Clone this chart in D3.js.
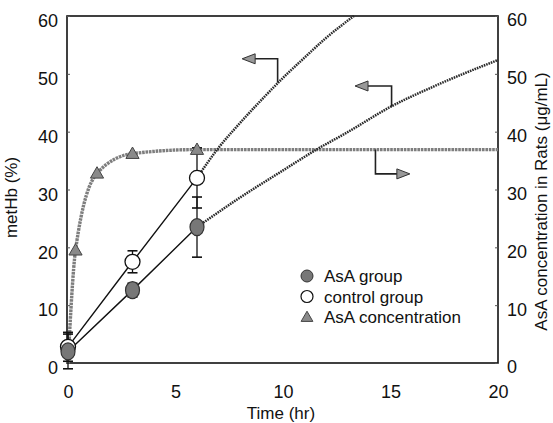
<!DOCTYPE html>
<html>
<head>
<meta charset="utf-8">
<style>
    body { margin: 0; background: #fff; }
    svg { font-family: Arial, 'Liberation Sans', sans-serif; }
    .tick text { font-size: 18px; fill: #111; }
    .axis-title { font-size: 17px; fill: #111; }
    .legend text { font-size: 17px; fill: #111; }
</style>
</head>
<body>
<svg width="553" height="423"></svg>
<script src="https://d3js.org/d3.v7.min.js"></script>
<script>
    // measured points (time in hr, metHb %)
    let times = [0, 3, 6];
    let asaGroup = [2.0, 12.6, 23.5];
    let asaErr = [3.0, 1.2, 5.2];
    let controlGroup = [2.8, 17.5, 32.0];
    let controlErr = [2.5, 1.9, 5.2];

    // extrapolated (dotted) lines
    let controlExtT = [6, 7, 8, 9, 10, 11, 12, 13.3];
    let controlExtV = [32, 37.2, 41.5, 45.5, 49.3, 52.8, 56.2, 60];
    let asaExtT = [6, 8, 10, 11.6, 13, 15, 17, 20];
    let asaExtV = [23.5, 28.6, 33.3, 37, 39.9, 44.3, 47.8, 52.4];

    // AsA concentration (ug/mL, right axis)
    let concT = [0, 0.35, 1.35, 3, 6, 20];
    let concV = [0, 19.5, 32.8, 36.2, 36.9, 36.9];
    let concMarkT = [0.35, 1.35, 3, 6];
    let concMarkV = [19.5, 32.8, 36.2, 36.9];

    // callout arrows: [t on curve, value on curve, bend value, end t]
    let arrowT = [9.75, 15.05, 14.3];
    let arrowV = [48.5, 44.3, 36.9];
    let arrowBendV = [52.6, 47.9, 32.7];
    let arrowEndT = [8.1, 13.35, 15.9];

    let xTicks = [0, 5, 10, 15, 20];
    let yTicks = [0, 10, 20, 30, 40, 50, 60];

    let margin = { top: 16, right: 55, bottom: 60, left: 67 };
    let width = 553, height = 423;
    let svg = d3.select("svg");

    let x = d3.scaleLinear().domain([0, 20]).range([margin.left + 1, width - margin.right]);
    let y = d3.scaleLinear().domain([0, 60]).range([height - margin.bottom, margin.top]);
    let y2 = d3.scaleLinear().domain([0, 60]).range([height - margin.bottom, margin.top]);

    // frame
    svg.append("rect")
        .attr("x", margin.left).attr("y", margin.top)
        .attr("width", width - margin.right - margin.left)
        .attr("height", height - margin.bottom - margin.top)
        .attr("fill", "none").attr("stroke", "#111").attr("stroke-width", 1.6);

    svg.append("g")
        .attr("transform", `translate(0,${height - margin.bottom})`)
        .call(d3.axisBottom(x).tickValues(xTicks).tickSize(0).tickPadding(22))
        .call(g => g.select(".domain").remove());

    svg.append("g")
        .attr("transform", `translate(${margin.left},0)`)
        .call(d3.axisLeft(y).tickValues(yTicks).tickSizeInner(-3).tickSizeOuter(0).tickPadding(9))
        .call(g => g.select(".domain").remove())
        .call(g => g.selectAll("text").attr("dy", "0.6em"))
        .call(g => g.selectAll("line").attr("stroke", "#555"));

    svg.append("g")
        .attr("transform", `translate(${width - margin.right},0)`)
        .call(d3.axisRight(y2).tickValues(yTicks).tickSizeInner(-3).tickSizeOuter(0).tickPadding(9))
        .call(g => g.select(".domain").remove())
        .call(g => g.selectAll("text").attr("dy", "0.55em"))
        .call(g => g.selectAll("line").attr("stroke", "#555"));

    svg.append("text").attr("class", "axis-title")
        .attr("x", x(10) - 2).attr("y", 419)
        .attr("text-anchor", "middle").text("Time (hr)");

    svg.append("text").attr("class", "axis-title")
        .attr("transform", `translate(17,${y(30) + 8}) rotate(-90)`)
        .attr("text-anchor", "middle").text("metHb (%)");

    svg.append("text").attr("class", "axis-title")
        .attr("transform", `translate(547,${y(30) + 12}) rotate(-90)`)
        .attr("text-anchor", "middle").text("AsA concentration in Rats (μg/mL)");

    // concentration curve
    let concLine = d3.line().x(d => x(d[0])).y(d => y2(d[1])).curve(d3.curveMonotoneX);
    svg.append("path")
        .attr("d", concLine(d3.zip(concT, concV)))
        .attr("fill", "none").attr("stroke", "#7e7e7e")
        .attr("stroke-width", 3.4).attr("stroke-dasharray", "2.6,0.8");

    // extrapolated dotted lines
    let extLine = d3.line().x(d => x(d[0])).y(d => y(d[1])).curve(d3.curveMonotoneX);
    [d3.zip(controlExtT, controlExtV), d3.zip(asaExtT, asaExtV)].forEach(pts => {
        svg.append("path")
            .attr("d", extLine(pts))
            .attr("fill", "none").attr("stroke", "#2a2a2a")
            .attr("stroke-width", 2.5).attr("stroke-dasharray", "1.6,0.9");
    });

    // measured lines
    let line = d3.line().x(d => x(d[0])).y(d => y(d[1]));
    [asaGroup, controlGroup].forEach(vals => {
        svg.append("path")
            .attr("d", line(d3.zip(times, vals)))
            .attr("fill", "none").attr("stroke", "#111").attr("stroke-width", 1.4);
    });

    // error bars
    function errorBars(vals, errs) {
        times.forEach((t, i) => {
            let cx = x(t);
            let lo = y(vals[i] - errs[i]), hi = y(vals[i] + errs[i]);
            svg.append("line").attr("x1", cx).attr("x2", cx).attr("y1", lo).attr("y2", hi)
                .attr("stroke", "#111").attr("stroke-width", 1.3);
            [lo, hi].forEach(yy => svg.append("line")
                .attr("x1", cx - 5).attr("x2", cx + 5).attr("y1", yy).attr("y2", yy)
                .attr("stroke", "#111").attr("stroke-width", 1.6));
        });
    }
    errorBars(controlGroup, controlErr);
    errorBars(asaGroup, asaErr);

    // arrows
    let arrow = d3.line();
    arrowT.forEach((t, i) => {
        let x0 = x(t), yv = y(arrowV[i]), yb = y(arrowBendV[i]), xe = x(arrowEndT[i]);
        let dir = Math.sign(xe - x0);
        svg.append("path")
            .attr("d", arrow([[x0, yv], [x0, yb], [xe - dir * 10, yb]]))
            .attr("fill", "none").attr("stroke", "#222").attr("stroke-width", 1.6);
        svg.append("path")
            .attr("d", arrow([[xe, yb], [xe - dir * 13, yb - 5], [xe - dir * 13, yb + 5]]) + "Z")
            .attr("fill", "#999").attr("stroke", "#333").attr("stroke-width", 1);
    });

    // markers
    let tri = d3.symbol().type(d3.symbolTriangle).size(75);
    svg.selectAll(".conc-mark")
        .data(d3.zip(concMarkT, concMarkV))
        .join("path")
        .attr("transform", d => `translate(${x(d[0])},${y2(d[1]) + 1})`)
        .attr("d", tri)
        .attr("fill", "#8a8a8a").attr("stroke", "#444").attr("stroke-width", 1);

    svg.selectAll(".ctrl-mark")
        .data(d3.zip(times, controlGroup))
        .join("circle")
        .attr("cx", d => x(d[0])).attr("cy", d => y(d[1])).attr("r", 7.5)
        .attr("fill", "#fff").attr("stroke", "#111").attr("stroke-width", 1.3);

    svg.selectAll(".asa-mark")
        .data(d3.zip(times, asaGroup))
        .join("ellipse")
        .attr("cx", d => x(d[0])).attr("cy", d => y(d[1]))
        .attr("rx", 7).attr("ry", 8.5)
        .attr("fill", "#777").attr("stroke", "#333").attr("stroke-width", 1.2);

    // legend
    let legendLabels = ["AsA group", "control group", "AsA concentration"];
    let legend = svg.append("g").attr("class", "legend");
    legendLabels.forEach((lab, i) => {
        let ly = 276 + i * 20.5;
        if (i == 0) legend.append("circle").attr("cx", 307).attr("cy", ly).attr("r", 6)
            .attr("fill", "#777").attr("stroke", "#333");
        if (i == 1) legend.append("circle").attr("cx", 307).attr("cy", ly).attr("r", 6)
            .attr("fill", "#fff").attr("stroke", "#111").attr("stroke-width", 1.2);
        if (i == 2) legend.append("path").attr("transform", `translate(307,${ly + 1})`)
            .attr("d", d3.symbol().type(d3.symbolTriangle).size(60))
            .attr("fill", "#8a8a8a").attr("stroke", "#444");
        legend.append("text").attr("x", 324).attr("y", ly + 6).text(lab);
    });
</script>
</body>
</html>
